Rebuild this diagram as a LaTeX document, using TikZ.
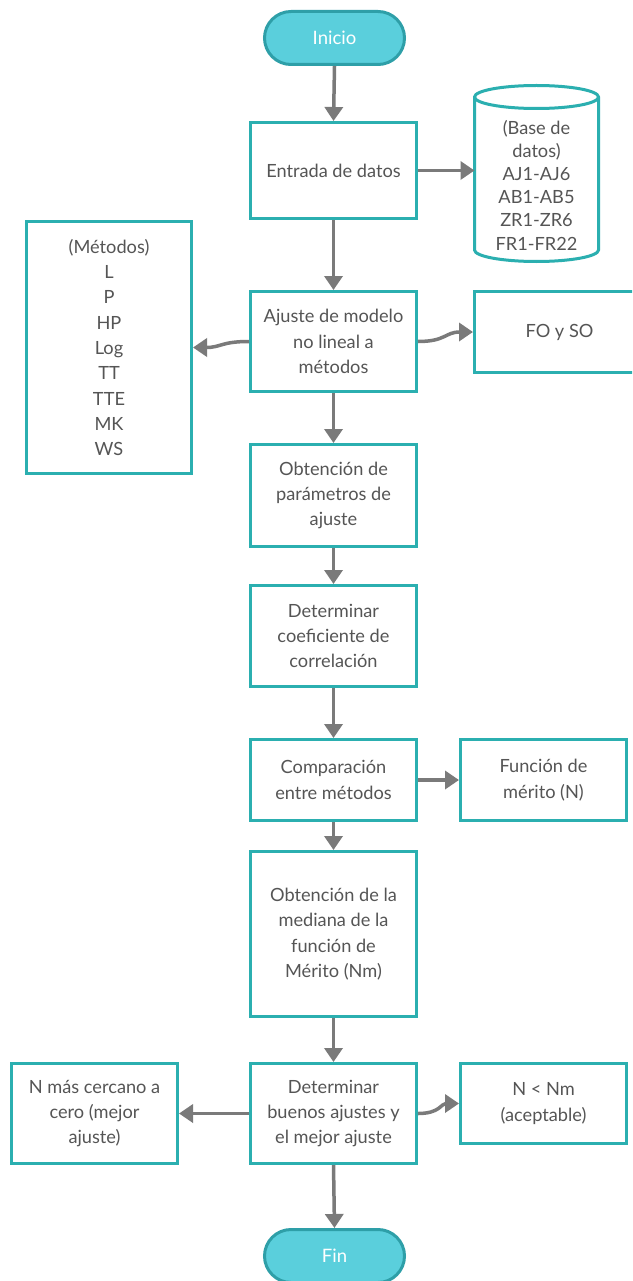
\documentclass[tikz,border=0pt]{standalone}
\usepackage{fontspec}
\setmainfont{Lato}
\usetikzlibrary{arrows.meta,shapes.misc}
\definecolor{boxline}{HTML}{2BAFB0}
\definecolor{termfill}{HTML}{5ACFDC}
\definecolor{termline}{HTML}{2E9FA8}
\definecolor{arrowgray}{HTML}{7A7A7A}
\definecolor{txtgray}{HTML}{555555}
\tikzset{
  box/.style={draw=boxline, line width=3pt, fill=white, align=center, inner sep=2pt,
    text=txtgray, font=\fontsize{18.2}{25.3}\selectfont},
  term/.style={rounded rectangle, draw=termline, line width=3pt, fill=termfill, text=white,
    minimum width=140pt, minimum height=53pt, inner sep=0pt, font=\fontsize{18.5}{20}\selectfont},
  arr/.style={-{Triangle[length=14pt,width=18pt]}, draw=arrowgray, line width=3.5pt},
  cyltext/.style={align=center, text=txtgray, inner sep=0pt, font=\fontsize{18.2}{23.2}\selectfont}
}
\begin{document}
\begin{tikzpicture}[x=1pt,y=-1pt]
\useasboundingbox (0,0) rectangle (632,1281);
\fill[white] (0,0) rectangle (632,1281);
\clip (0,0) rectangle (632,1281);

% terminals
\node[term] (inicio) at (334.5,38) {Inicio};
\node[term] (fin) at (334.5,1256) {Fin};

% main column
\node[box, minimum width=166pt, minimum height=96pt] (entrada) at (333.5,170.5) {Entrada de datos};
\node[box, minimum width=166pt, minimum height=100pt] (ajuste) at (333.5,341.5) {Ajuste de modelo\\no lineal a\\métodos};
\node[box, minimum width=166pt, minimum height=102pt] (obt) at (333.5,495.5) {Obtención de\\parámetros de\\ajuste};
\node[box, minimum width=166pt, minimum height=101pt] (det) at (333.5,636) {Determinar\\coeficiente de\\correlación};
\node[box, minimum width=166pt, minimum height=81pt] (comp) at (333.5,780) {Comparación\\entre métodos};
\node[box, minimum width=166pt, minimum height=165pt] (med) at (333.5,934) {Obtención de la\\mediana de la\\función de\\Mérito (Nm)};
\node[box, minimum width=166pt, minimum height=100pt] (buenos) at (333.5,1113.5) {Determinar\\buenos ajustes y\\el mejor ajuste};

% side boxes
\node[box, minimum width=165pt, minimum height=252pt] (metodos) at (109,347.5) {(Métodos)\\L\\P\\HP\\Log\\TT\\TTE\\MK\\WS};
\node[box, minimum width=170pt, minimum height=81pt] (fo) at (559.5,332) {FO y SO};
\node[box, minimum width=166pt, minimum height=81pt] (funcion) at (543.5,780) {Función de\\mérito (N)};
\node[box, minimum width=166pt, minimum height=100pt] (ncerc) at (94.5,1113.5) {N más cercano a\\cero (mejor\\ajuste)};
\node[box, minimum width=166pt, minimum height=80pt] (nlt) at (543.5,1103.5) {N < Nm\\(aceptable)};

% cylinder (database)
\draw[boxline, line width=3pt, fill=white]
  (474.5,97) -- (474.5,250) arc (180:360:62pt and 11.5pt) -- (598.5,97) arc (0:180:62pt and 11.5pt) -- cycle;
\draw[boxline, line width=3pt] (474.5,97) arc (180:360:62pt and 11.5pt);
\node[cyltext] (cyltxt) at (536.5,185) {(Base de\\datos)\\AJ1-AJ6\\AB1-AB5\\ZR1-ZR6\\FR1-FR22};
\coordinate (cylw) at (474.5,170.5);

% connectors
\draw[arr] (inicio.south) -- (entrada.north);
\draw[arr] (entrada.east) -- (cylw);
\draw[arr] (entrada.south) -- (ajuste.north);
\draw[arr] (ajuste.west) .. controls +(-28,0) and +(28,0) .. (metodos.east);
\draw[arr] (ajuste.east) .. controls +(28,0) and +(-28,0) .. (fo.west);
\draw[arr] (ajuste.south) -- (obt.north);
\draw[arr] (obt.south) -- (det.north);
\draw[arr] (det.south) -- (comp.north);
\draw[arr] (comp.east) -- (funcion.west);
\draw[arr] (comp.south) -- (med.north);
\draw[arr] (med.south) -- (buenos.north);
\draw[arr] (buenos.west) -- (ncerc.east);
\draw[arr] (buenos.east) .. controls +(22,0) and +(-18,0) .. (nlt.west);
\draw[arr] (buenos.south) -- (fin.north);
\end{tikzpicture}
\end{document}
